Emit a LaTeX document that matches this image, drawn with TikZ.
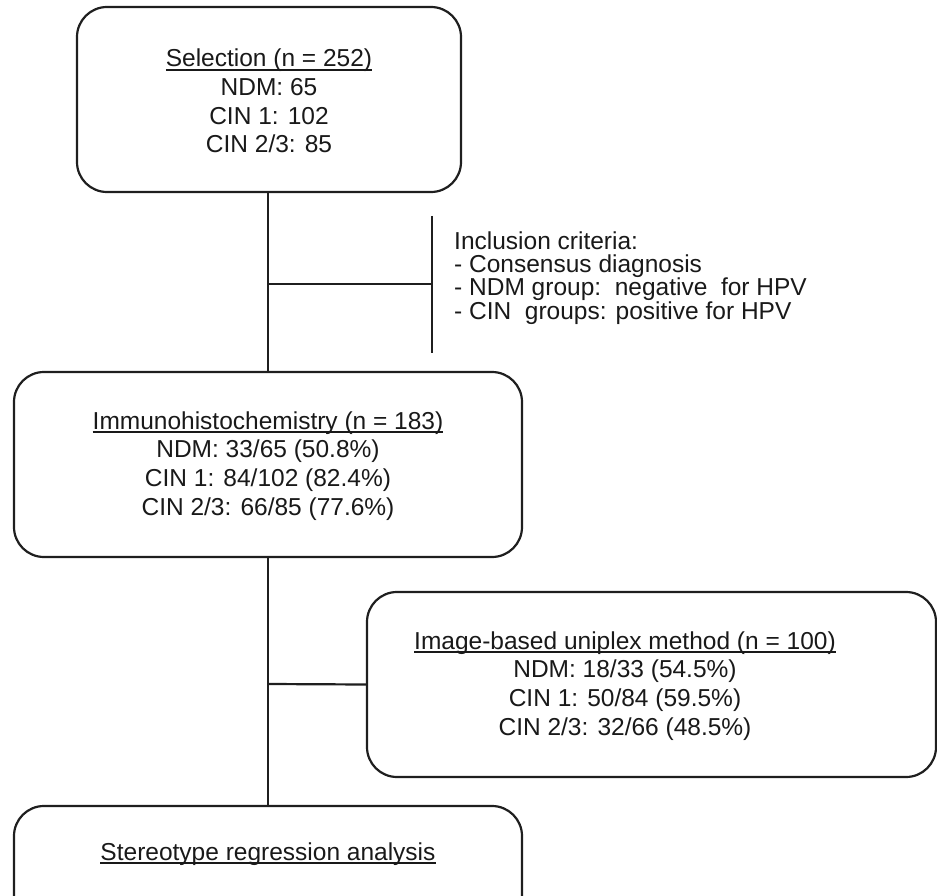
\documentclass[tikz,border=0pt]{standalone}
\usepackage{fontspec}
\setmainfont{Liberation Sans}
\newlength\myulw
\newcommand\myul[1]{\settowidth\myulw{#1}\rlap{\rule[-3.8pt]{\myulw}{1.7pt}}#1}
\begin{document}
\begin{tikzpicture}[x=1pt,y=-1pt,
  box/.style={draw=black!88, line width=2.2pt, rounded corners=30pt, inner sep=0pt},
  txt/.style={align=center, inner sep=0pt, font=\fontsize{24.5}{28.7}\selectfont, text=black!90},
  crit/.style={align=left, inner sep=0pt, font=\fontsize{24.5}{23.3}\selectfont, text=black!90},
  conn/.style={draw=black!88, line width=2.2pt}]
\useasboundingbox (0,0) rectangle (937,896);
% boxes
\node[box, minimum width=384pt, minimum height=185pt] (b1) at (269,99.5) {};
\node[txt] (t1) at (269,101) {\myul{Selection (n = 252)}\\NDM: 65\\CIN 1: 102\\CIN 2/3: 85};
\node[box, minimum width=508pt, minimum height=185pt] (b2) at (268,464.5) {};
\node[txt] (t2) at (268,466) {\myul{Immunohistochemistry (n = 183)}\\NDM: 33/65 (50.8\%)\\CIN 1: 84/102 (82.4\%)\\CIN 2/3: 66/85 (77.6\%)};
\node[box, minimum width=569pt, minimum height=185pt] (b3) at (651.5,684.5) {};
\node[txt] (t3) at (625,686) {\myul{Image-based uniplex method (n = 100)}\\NDM: 18/33 (54.5\%)\\CIN 1: 50/84 (59.5\%)\\CIN 2/3: 32/66 (48.5\%)};
\node[box, minimum width=508pt, minimum height=188pt] (b4) at (268,900) {};
\node[txt] (t4) at (268,854) {\myul{Stereotype regression analysis}};
% criteria
\coordinate (j1) at (268,284);
\coordinate (bt) at (432,216);
\coordinate (bb) at (432,353);
\coordinate (bm) at (432,284);
\node[crit, anchor=west] (crit) at (454,278) {Inclusion criteria:\\- Consensus diagnosis\\- NDM group:\ \ negative\ \ for HPV\\- CIN\ \ groups: positive for HPV};
% connectors
\draw[conn] (b1.south -| j1) -- (b2.north -| j1);
\draw[conn] (j1) -- (bm);
\draw[conn] (bt) -- (bb);
\draw[conn] (b2.south -| j1) -- (b4.north -| j1);
\coordinate (j2) at (268,684);
\draw[conn] (j2) -- (b3.west);
\end{tikzpicture}
\end{document}
